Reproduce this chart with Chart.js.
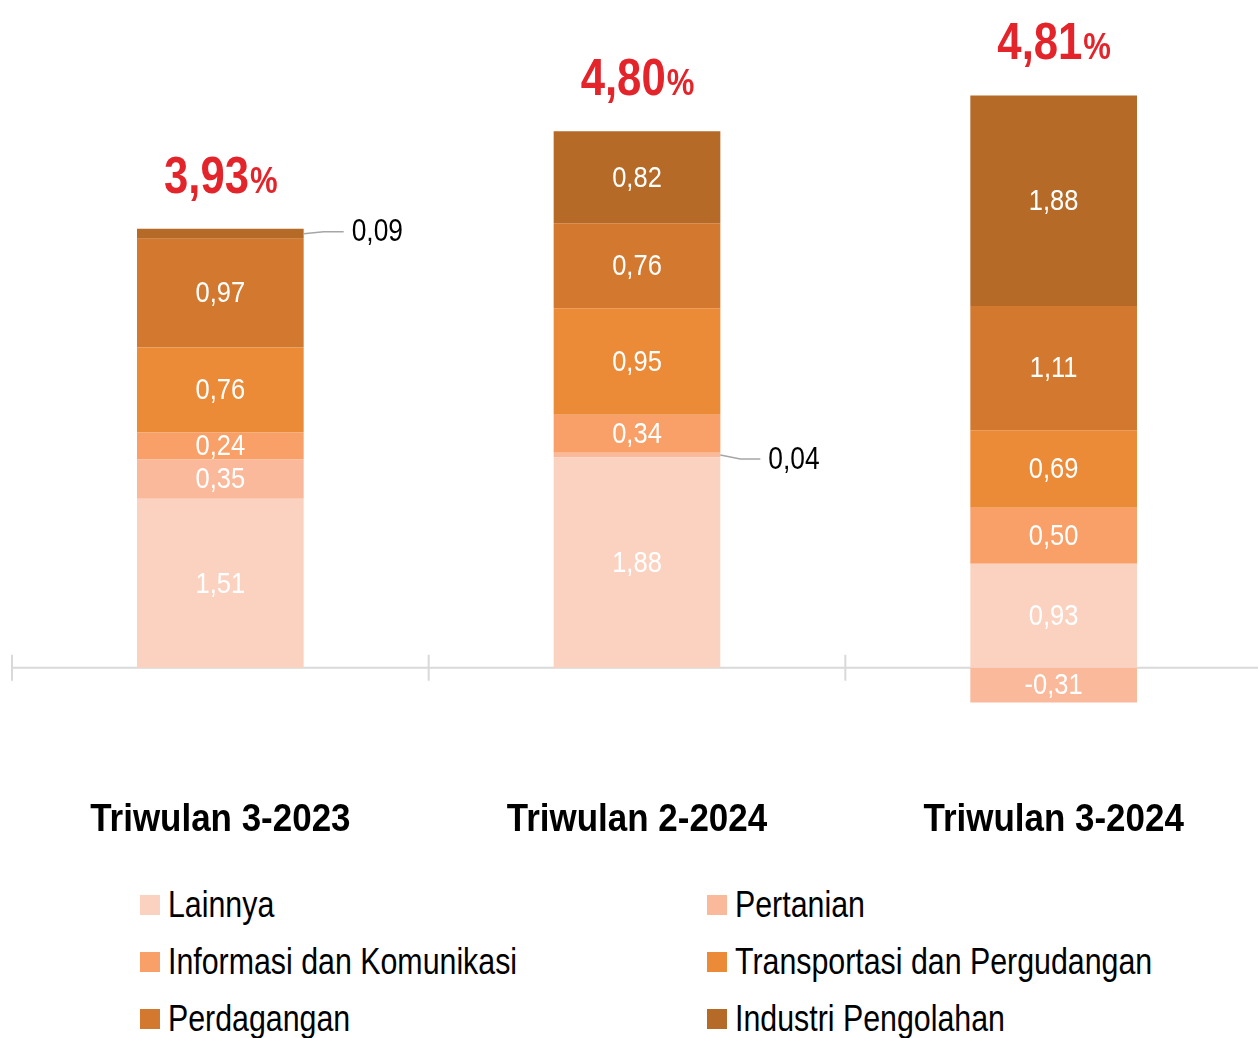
<!DOCTYPE html>
<html>
<head>
<meta charset="utf-8">
<script src="https://cdn.jsdelivr.net/npm/chart.js@4"></script>
<style>
  body { margin: 0; background: #fff; font-family: 'Liberation Sans', Arial, sans-serif; overflow: hidden; }
  #wrap { position: relative; width: 1262px; height: 870px; }
  #legend { position: absolute; left: 0; top: 880px; width: 1258px; }
  .item { position: absolute; display: flex; align-items: center; font-size: 37px; color: #000; white-space: nowrap; height: 50px; }
  .item .box { display: inline-block; width: 20px; height: 20px; margin-right: 8px; }
  .item .txt { display: inline-block; transform: scaleX(0.82); transform-origin: left center; }
</style>
</head>
<body>
<div id="wrap"><canvas id="chart"></canvas></div>
<div id="legend"></div>
<script>
const FONT = "'Liberation Sans', Arial, sans-serif";

const categories = ['Triwulan 3-2023', 'Triwulan 2-2024', 'Triwulan 3-2024'];
const totals = ['3,93', '4,80', '4,81'];

const lainnya = [1.51, 1.88, 0.93];
const pertanian = [0.35, 0.04, -0.31];
const infokom = [0.24, 0.34, 0.50];
const transportasi = [0.76, 0.95, 0.69];
const perdagangan = [0.97, 0.76, 1.11];
const industri = [0.09, 0.82, 1.88];

const series = [
    { label: 'Lainnya', data: lainnya, color: '#FBD2C0' },
    { label: 'Pertanian', data: pertanian, color: '#F9B99A' },
    { label: 'Informasi dan Komunikasi', data: infokom, color: '#F8A067' },
    { label: 'Transportasi dan Pergudangan', data: transportasi, color: '#EB8A37' },
    { label: 'Perdagangan', data: perdagangan, color: '#D3782F' },
    { label: 'Industri Pengolahan', data: industri, color: '#B66A27' }
];

const fmt = v => v.toFixed(2).replace('.', ',');

// narrow text: regular font squeezed horizontally
function narrowText(ctx, text, x, y, font, sx, align) {
    ctx.save();
    ctx.font = font;
    const w = ctx.measureText(text).width * sx;
    let left = x;
    if (align === 'center') left = x - w / 2;
    if (align === 'right') left = x - w;
    ctx.translate(left, y);
    ctx.scale(sx, 1);
    ctx.textAlign = 'left';
    ctx.fillText(text, 0, 0);
    ctx.restore();
    return w;
}

// zero line with category tick marks
const axisLine = {
    id: 'axisLine',
    beforeDatasetsDraw(chart) {
        const { ctx, chartArea, scales: { y } } = chart;
        const y0 = y.getPixelForValue(0);
        const step = (chartArea.right - chartArea.left) / categories.length;
        ctx.save();
        ctx.strokeStyle = '#d9d9d9';
        ctx.lineWidth = 2;
        ctx.beginPath();
        ctx.moveTo(chartArea.left, y0);
        ctx.lineTo(chartArea.right, y0);
        for (let i = 0; i < categories.length; i++) {
            const px = chartArea.left + step * i;
            ctx.moveTo(px, y0 - 13);
            ctx.lineTo(px, y0 + 13);
        }
        ctx.stroke();
        ctx.restore();
    }
};

// segment values, totals and category names
const valueLabels = {
    id: 'valueLabels',
    afterDatasetsDraw(chart) {
        const { ctx, chartArea } = chart;
        ctx.save();
        ctx.textBaseline = 'middle';
        chart.data.datasets.forEach((ds, di) => {
            const meta = chart.getDatasetMeta(di);
            meta.data.forEach((bar, i) => {
                const v = ds.data[i];
                const cy = (bar.y + bar.base) / 2;
                if (Math.abs(v) < 0.15) {
                    const xr = bar.x + bar.width / 2;
                    const dy = di === 1 ? 4 : -2;
                    ctx.strokeStyle = '#a6a6a6';
                    ctx.lineWidth = 1.5;
                    ctx.beginPath();
                    ctx.moveTo(xr, cy);
                    ctx.lineTo(xr + 20, cy + dy);
                    ctx.lineTo(xr + 40, cy + dy);
                    ctx.stroke();
                    ctx.fillStyle = '#000';
                    narrowText(ctx, fmt(v), xr + 48, cy + dy + 1, '31px ' + FONT, 0.85, 'left');
                } else {
                    ctx.fillStyle = '#fff';
                    narrowText(ctx, fmt(v), bar.x, cy + 1, '30px ' + FONT, 0.85, 'center');
                }
            });
        });

        const y = chart.scales.y;
        categories.forEach((c, i) => {
            let pos = 0;
            chart.data.datasets.forEach(ds => { if (ds.data[i] > 0) pos += ds.data[i]; });
            const top = y.getPixelForValue(pos);
            const xc = chart.getDatasetMeta(0).data[i].x;

            // total growth in red
            ctx.fillStyle = '#E3242B';
            ctx.textBaseline = 'alphabetic';
            ctx.font = 'bold 52px ' + FONT;
            const w1 = ctx.measureText(totals[i]).width * 0.84;
            ctx.font = 'bold 37px ' + FONT;
            const w2 = ctx.measureText('%').width * 0.84;
            const x0 = xc - (w1 + w2) / 2;
            narrowText(ctx, totals[i], x0, top - 36, 'bold 52px ' + FONT, 0.84, 'left');
            narrowText(ctx, '%', x0 + w1 + 1, top - 36, 'bold 37px ' + FONT, 0.84, 'left');

            // category name
            ctx.fillStyle = '#000';
            ctx.textBaseline = 'middle';
            narrowText(ctx, c, xc, chartArea.bottom + 30, 'bold 38px ' + FONT, 0.92, 'center');
        });
        ctx.restore();
    }
};

const chart = new Chart(document.getElementById('chart'), {
    type: 'bar',
    data: {
        labels: categories,
        datasets: series.map(s => ({
            label: s.label,
            data: s.data,
            backgroundColor: s.color,
            borderWidth: 0,
            barPercentage: 0.4,
            categoryPercentage: 1
        }))
    },
    options: {
        responsive: true,
        maintainAspectRatio: false,
        animation: false,
        layout: { padding: { top: 7, left: 12, right: 0, bottom: 0 } },
        plugins: { legend: { display: false }, tooltip: { enabled: false } },
        scales: {
            x: {
                stacked: true,
                grid: { display: false, drawTicks: false },
                border: { display: false },
                ticks: { color: 'rgba(0,0,0,0)', padding: 8, font: { family: FONT, size: 37, weight: 'bold' } },
                afterFit(scale) { scale.height = 79; }
            },
            y: {
                stacked: true,
                display: false,
                min: -1.1,
                max: 5.9
            }
        }
    },
    plugins: [axisLine, valueLabels]
});

// legend in two columns
const legend = document.getElementById('legend');
series.forEach((s, i) => {
    const el = document.createElement('div');
    el.className = 'item';
    el.style.left = (i % 2 === 0 ? 140 : 707) + 'px';
    el.style.top = (Math.floor(i / 2) * 57) + 'px';
    el.innerHTML = `<span class="box" style="background:${s.color}"></span><span class="txt">${s.label}</span>`;
    legend.appendChild(el);
});
</script>
</body>
</html>
